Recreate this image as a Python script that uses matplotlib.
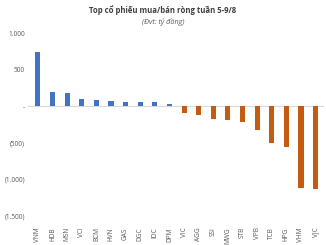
import numpy as np
import matplotlib
matplotlib.use("Agg")
import matplotlib.pyplot as plt
from matplotlib.ticker import FuncFormatter

# ======= Data (ty dong) =======
tickers = ['VNM', 'HDB', 'MSN', 'VCI', 'BCM', 'HVN', 'GAS', 'DGC', 'IDC', 'DPM',
           'VIC', 'AGG', 'SSI', 'MWG', 'STB', 'VPB', 'TCB', 'HPG', 'VHM', 'VJC']
values = [740, 200, 177, 95, 86, 78, 64, 55, 52, 35,
          -95, -118, -172, -186, -218, -318, -495, -553, -1110, -1125]

BLUE = '#4472C4'
ORANGE = '#C55A11'

plt.rcParams['font.family'] = ['Open Sans', 'DejaVu Sans']

fig = plt.figure(figsize=(3.26, 2.45), dpi=100)
ax = fig.add_axes([0.085, 0.118, 0.91, 0.747])

x = np.arange(len(tickers))
colors = [BLUE if v >= 0 else ORANGE for v in values]
ax.bar(x, values, width=0.35, color=colors, zorder=2)
ax.axhline(0, color='#D9D9D9', lw=0.8, zorder=1)

ax.set_ylim(-1500, 1000)
ax.set_yticks([1000, 500, 0, -500, -1000, -1500])

def fmt(v, pos):
    if v == 0:
        return '-'
    s = f"{abs(int(v)):,}".replace(',', '.')
    return s if v > 0 else f"({s})"

ax.yaxis.set_major_formatter(FuncFormatter(fmt))
ax.set_xticks(x)
ax.set_xticklabels(tickers, rotation=90)
ax.set_xlim(-0.7, len(tickers) - 0.4)
ax.tick_params(axis='both', length=0, labelsize=4.7, colors='#595959', pad=8)
ax.tick_params(axis='y', pad=2)
for s in ax.spines.values():
    s.set_visible(False)

fig.text(0.5, 0.958, 'Top cổ phiếu mua/bán ròng tuần 5-9/8', ha='center', va='center',
         fontsize=5.6, fontweight='bold', color='#404040')
fig.text(0.5, 0.91, '(Đvt: tỷ đồng)', ha='center', va='center',
         fontsize=5.2, style='italic', color='#595959')

fig.savefig('out.png', dpi=100)
